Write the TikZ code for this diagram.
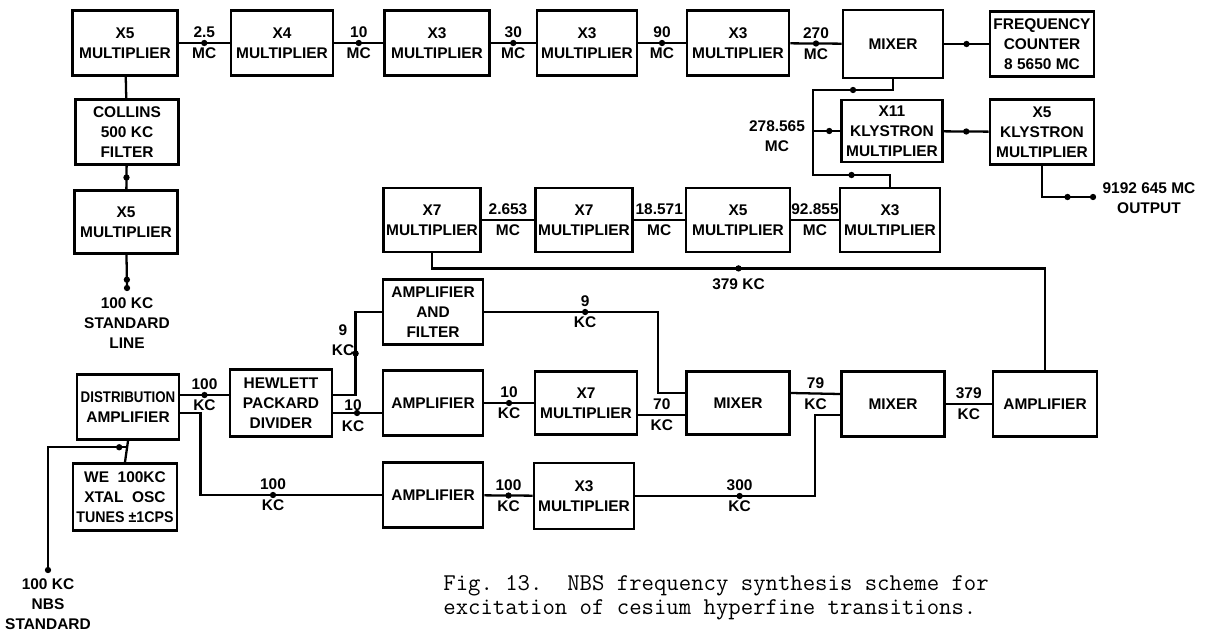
\documentclass[tikz,border=0pt]{standalone}
\usepackage{fontspec}
\usepackage{graphicx}
\usetikzlibrary{calc,positioning}
\newfontfamily\lettering{Liberation Sans}
\tikzset{
  blk/.style={
    draw,
    line width=1.6pt,
    minimum width=2.04cm,
    minimum height=1.3cm,
    inner sep=1pt,
    align=center,
    font=\lettering\bfseries\fontsize{8.8}{11.3}\selectfont
  },
  wire/.style={line width=1.3pt},
  pip/.style={circle, fill, inner sep=0pt, minimum size=3.6pt},
  frq/.style={align=center, inner sep=0pt, font=\lettering\bfseries\fontsize{8.8}{12}\selectfont},
  note/.style={align=center, inner sep=0pt, font=\lettering\bfseries\fontsize{8.8}{11.3}\selectfont}
}

\begin{document}
\begin{tikzpicture}[x=0.02cm, y=-0.02cm]
  \fill[white] (0,0) rectangle (1210,635);
  \useasboundingbox (0,0) rectangle (1210,635);

  \node[blk, minimum width=2.1cm] (m5a) at (125,43) {X5\\MULTIPLIER};
  \node[blk] (m4) at (282,43) {X4\\MULTIPLIER};
  \node[blk, minimum width=2.1cm] (m3a) at (437,43) {X3\\MULTIPLIER};
  \node[blk, minimum width=2cm] (m3b) at (587,43) {X3\\MULTIPLIER};
  \node[blk] (m3c) at (738,43) {X3\\MULTIPLIER};
  \node[blk, minimum width=2cm, minimum height=1.36cm] (mixa) at (893,44) {MIXER};
  \node[blk, minimum width=2.08cm] (fcount) at (1042,44) {FREQUENCY\\COUNTER\\8 5650 MC};

  \node[blk, minimum width=2.06cm] (collins) at (127,132) {COLLINS\\500 KC\\FILTER};
  \node[blk, minimum width=2.06cm, minimum height=1.26cm] (m5b) at (126,222) {X5\\MULTIPLIER};
  \coordinate (stdend) at (127,288);
  \node[note] (stdl) at (127,323) {100 KC\\STANDARD\\LINE};

  \node[blk, minimum width=2.02cm, minimum height=1.24cm] (x11) at (892,131) {X11\\KLYSTRON\\MULTIPLIER};
  \node[blk, minimum width=2.08cm] (x5k) at (1042,132) {X5\\KLYSTRON\\MULTIPLIER};
  \coordinate (outp) at (1093,197);
  \node[note] (outl) at (1149,198) {9192 645 MC\\OUTPUT};

  \node[blk, minimum width=1.94cm, minimum height=1.28cm] (m7a) at (432,220) {X7\\MULTIPLIER};
  \node[blk, minimum width=1.94cm, minimum height=1.28cm] (m7b) at (584,220) {X7\\MULTIPLIER};
  \node[blk, minimum width=2.08cm, minimum height=1.28cm] (m5c) at (738,220) {X5\\MULTIPLIER};
  \node[blk, minimum width=2cm, minimum height=1.28cm] (m3d) at (890,220) {X3\\MULTIPLIER};
  \coordinate (jtop) at (813,90);
  \coordinate (jmid) at (813,131);
  \coordinate (jbot) at (813,175);
  \node[note] (klyin) at (777,136) {278.565\\MC};

  \node[blk, minimum width=2cm] (ampf) at (433,312) {AMPLIFIER\\AND\\FILTER};
  \node[blk, minimum width=2.04cm, minimum height=1.34cm] (hp) at (281,403) {HEWLETT\\PACKARD\\DIVIDER};
  \node[blk, minimum width=2cm] (amp1) at (433,403) {AMPLIFIER};
  \node[blk, minimum width=2.04cm, minimum height=1.26cm] (m7c) at (586,403) {X7\\MULTIPLIER};
  \node[blk, minimum width=2.06cm, minimum height=1.26cm] (mixb) at (738,403) {MIXER};
  \node[blk, minimum width=2.06cm] (mixc) at (893,404) {MIXER};
  \node[blk, minimum width=2.08cm] (amp2) at (1045,404) {AMPLIFIER};

  \node[blk] (da) at (128,407) {\scalebox{.86}[1]{DISTRIBUTION}\\AMPLIFIER};
  \node[blk, minimum width=2.08cm, minimum height=1.34cm] (xtal) at (125,497) {WE\ \ 100KC\\XTAL\ \ OSC\\\scalebox{.92}[1]{TUNES ±1CPS}};
  \node[blk, minimum width=2cm] (amp3) at (433,495) {AMPLIFIER};
  \node[blk, minimum width=2cm, minimum height=1.32cm] (m3e) at (584,496) {X3\\MULTIPLIER};
  \coordinate (nbs) at (48,570);
  \node[note] (nbsl) at (48,604) {100 KC\\NBS\\STANDARD};

  \node[anchor=west, align=left, inner sep=0pt,
    font=\ttfamily\frenchspacing\fontsize{13.7}{13.6}\selectfont] (cap) at (443,598)
    {Fig.\ 13.\ \ NBS frequency synthesis scheme for\\excitation of cesium hyperfine transitions.};

  % multiplier chain, top row
  \draw[wire] (m5a) -- node[pip]{} node[frq]{2.5\\MC} (m4);
  \draw[wire] (m4) -- node[pip]{} node[frq]{10\\MC} (m3a);
  \draw[wire] (m3a) -- node[pip]{} node[frq]{30\\MC} (m3b);
  \draw[wire] (m3b) -- node[pip]{} node[frq]{90\\MC} (m3c);
  \draw[wire] (m3c) -- node[pip]{} node[frq]{270\\MC} (mixa);
  \draw[wire] (mixa) -- node[pip]{} (fcount);

  \draw[wire] (m5a) -- (collins);
  \draw[wire] (collins) -- node[pip]{} (m5b);
  \draw[wire] (m5b) -- node[pip, pos=.75]{} (stdend) node[pip]{};

  \draw[wire] (x11) -- node[pip]{} (x5k);
  \draw[wire] (x5k.south) |- node[pip, pos=.75]{} (outp) node[pip]{};

  % 278.565 MC loop
  \draw[wire] (m3d.north) |- node[pip, pos=.75]{} (jbot) -- (jtop) -| node[pip, pos=.25]{} (mixa.south);
  \draw[wire] (jmid) -- node[pip, pos=.6]{} (x11.west);

  \draw[wire] (m7a) -- node[frq]{2.653\\MC} (m7b);
  \draw[wire] (m7b) -- node[frq]{18.571\\MC} (m5c);
  \draw[wire] (m5c) -- node[frq]{92.855\\MC} (m3d);
  \draw[wire] (amp2.north) |- node[pip, pos=.75]{} node[frq, pos=.75, below=5pt]{379 KC} ($(m7a.south)+(0,15)$) -- (m7a.south);

  % divider and mixers
  \draw[wire] ($(hp.east)+(0,-8)$) -| node[pip, pos=.75]{} ($(ampf.west)+(-26,0)$) -- (ampf.west);
  \node[note] (ninekc) at (343,340) {9\\KC};
  \draw[wire] ($(hp.east)+(0,10)$) -- node[pip, pos=.49]{} ($(amp1.west)+(0,10)$);
  \node[frq] (tenkc) at (353,416) {10\\KC};
  \draw[wire] (ampf.east) -| node[pip, pos=.29]{} node[frq, pos=.29]{9\\KC} ($(mixb.west)+(-27,-10)$) -- ($(mixb.west)+(0,-10)$);
  \draw[wire] (amp1) -- node[pip]{} node[frq]{10\\KC} (m7c);
  \draw[wire] ($(m7c.east)+(0,12)$) -- node[frq]{70\\KC} ($(mixb.west)+(0,12)$);
  \draw[wire] ($(mixb.east)+(0,-10)$) -- node[frq]{79\\KC} ($(mixc.west)+(0,-10)$);
  \draw[wire] (m3e.east) -| node[pip, pos=.29]{} node[frq, pos=.29]{300\\KC} ($(mixc.west)+(-25,11)$) -- ($(mixc.west)+(0,11)$);
  \draw[wire] (mixc) -- node[frq]{379\\KC} (amp2);

  % distribution
  \draw[wire] ($(da.east)+(0,-12)$) -- node[pip]{} node[frq]{100\\KC} ($(hp.west)+(0,-8)$);
  \draw[wire] ($(da.east)+(0,6)$) -| ($(amp3.west)+(-181,0)$) -- node[pip, pos=.4]{} node[frq, pos=.4]{100\\KC} (amp3.west);
  \draw[wire] (amp3) -- node[pip]{} node[frq]{100\\KC} (m3e);
  \draw[wire] (da.south) -- coordinate[pos=.3] (jn) (xtal.north);
  \draw[wire] (nbs) node[pip]{} |- node[pip, pos=.95]{} (jn);
\end{tikzpicture}
\end{document}
